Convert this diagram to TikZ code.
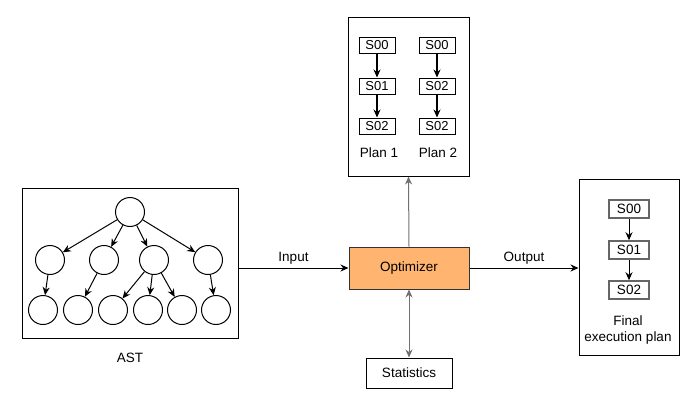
\documentclass[tikz,border=0pt]{standalone}
\usepackage{fontspec}
\setmainfont{Liberation Sans}
\usetikzlibrary{arrows.meta}
\definecolor{optfill}{HTML}{FFB570}
\definecolor{linegray}{HTML}{707070}
\begin{document}
\begin{tikzpicture}[x=1pt, y=-1pt, line width=1pt,
  font=\fontsize{13.5}{16}\selectfont,
  treenode/.style={circle, draw, minimum size=29pt, inner sep=0pt},
  planstep/.style={draw, minimum width=36pt, minimum height=16pt, inner sep=0pt, font=\fontsize{13}{15}\selectfont},
  finalstep/.style={draw=black!60, line width=1.5pt, minimum width=40pt, minimum height=18pt, inner sep=0pt, font=\fontsize{13.5}{15}\selectfont},
  panel/.style={draw, inner sep=0pt},
  arr/.style={-{Stealth[length=8pt,width=7pt]}},
  darr/.style={{Stealth[length=8pt,width=7pt]}-{Stealth[length=8pt,width=7pt]}}]
  \useasboundingbox (0,0) rectangle (696,407);

  % AST
  \node[panel, minimum width=216pt, minimum height=150pt] (astbox) at (130,263) {};
  \node (astlbl) at (130,358) {AST};
  \node[treenode] (r) at (130,212) {};
  \node[treenode] (m1) at (50,260) {};
  \node[treenode] (m2) at (104,260) {};
  \node[treenode] (m3) at (154,260) {};
  \node[treenode] (m4) at (208,260) {};
  \node[treenode] (l1) at (43,310) {};
  \node[treenode] (l2) at (78,310) {};
  \node[treenode] (l3) at (113,310) {};
  \node[treenode] (l4) at (148,310) {};
  \node[treenode] (l5) at (182,310) {};
  \node[treenode] (l6) at (216,310) {};
  \foreach \m in {m1,m2,m3,m4}
    \draw[arr] (r) -- (\m);
  \draw[arr] (m1) -- (l1);
  \draw[arr] (m2) -- (l2);
  \draw[arr] (m3) -- (l3);
  \draw[arr] (m3) -- (l4);
  \draw[arr] (m3) -- (l5);
  \draw[arr] (m4) -- (l6);

  % candidate plans
  \node[panel, minimum width=121pt, minimum height=159pt] (plans) at (408.5,96.5) {};
  \node[planstep] (p1a) at (377,45.5) {S00};
  \node[planstep] (p1b) at (377,86) {S01};
  \node[planstep] (p1c) at (377,126) {S02};
  \node[planstep] (p2a) at (437,45.5) {S00};
  \node[planstep] (p2b) at (437,86) {S02};
  \node[planstep] (p2c) at (437,126) {S02};
  \node (plan1) at (379,153) {Plan 1};
  \node (plan2) at (438,153) {Plan 2};
  \draw[arr, line width=1.5pt] (p1a) -- (p1b);
  \draw[arr, line width=1.5pt] (p1b) -- (p1c);
  \draw[arr, line width=1.5pt] (p2a) -- (p2b);
  \draw[arr, line width=1.5pt] (p2b) -- (p2c);

  % final plan
  \node[panel, minimum width=100pt, minimum height=176pt] (finalbox) at (629,267) {};
  \node[finalstep] (f1) at (629,209) {S00};
  \node[finalstep] (f2) at (629,250) {S01};
  \node[finalstep] (f3) at (629,290) {S02};
  \node[align=center] (finallbl) at (628,330) {Final\\execution plan};
  \draw[arr] (f1) -- (f2);
  \draw[arr] (f2) -- (f3);

  % optimizer and statistics
  \node[draw=black!80, fill=optfill, minimum width=120pt, minimum height=42pt] (opt) at (409,268) {Optimizer};
  \node[draw, minimum width=86pt, minimum height=30pt] (stats) at (409,373) {Statistics};

  \draw[arr] (astbox.east |- opt.west) -- (opt.west) node[midway, above] {Input};
  \draw[arr] (opt.east) -- (finalbox.west |- opt.east) node[midway, above] {Output};
  \draw[arr, linegray] (opt.north) -- (plans.south);
  \draw[darr, linegray] (opt.south) -- (stats.north);
\end{tikzpicture}
\end{document}
